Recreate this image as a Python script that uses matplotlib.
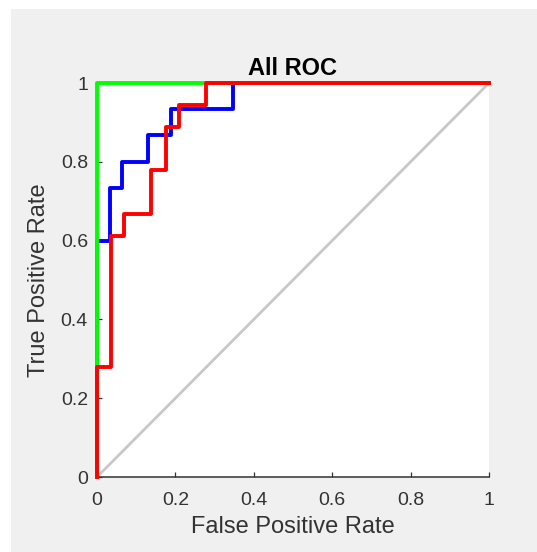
import matplotlib
matplotlib.use("Agg")
import matplotlib.pyplot as plt
from matplotlib.patches import Rectangle

# ROC points (drawn as steps)
green_fpr = [0.0, 0.0, 1.0]
green_tpr = [0.0, 1.0, 1.0]

blue_fpr = [0.0, 0.0, 0.033, 0.065, 0.13, 0.19, 0.347, 1.0]
blue_tpr = [0.0, 0.6, 0.733, 0.8, 0.867, 0.933, 1.0, 1.0]

red_fpr = [0.0, 0.0, 0.036, 0.069, 0.138, 0.176, 0.208, 0.278, 1.0]
red_tpr = [0.0, 0.278, 0.611, 0.667, 0.778, 0.889, 0.944, 1.0, 1.0]

ticks = [0, 0.2, 0.4, 0.6, 0.8, 1]
tick_labels = ["0", "0.2", "0.4", "0.6", "0.8", "1"]

plt.rcParams["font.family"] = ["Liberation Sans", "DejaVu Sans"]

W, H = 537, 552
fig = plt.figure(figsize=(W / 100, H / 100), dpi=100)
fig.patch.set_facecolor("white")
# grey window area, white strip on top and left
fig.add_artist(Rectangle((11 / W, 0), 1 - 11 / W, (H - 9) / H,
                         transform=fig.transFigure, facecolor="#f0f0f0",
                         edgecolor="none", zorder=-10))

ax = fig.add_axes([97 / W, 1 - 477 / H, 392 / W, 394 / H])
ax.set_facecolor("white")

lw = 2.8
ax.plot([0, 1], [0, 1], color="#c8c8c8", lw=2.0, zorder=1)
ax.plot(blue_fpr, blue_tpr, drawstyle="steps-post", color=(0, 0, 1), lw=lw, clip_on=False, zorder=2)
ax.plot(green_fpr, green_tpr, drawstyle="steps-post", color=(0, 1, 0), lw=lw, clip_on=False, zorder=3)
ax.plot(red_fpr, red_tpr, drawstyle="steps-post", color=(1, 0, 0), lw=lw, clip_on=False, zorder=4)

ax.set_xlim(0, 1)
ax.set_ylim(0, 1)
ax.set_xticks(ticks)
ax.set_xticklabels(tick_labels)
ax.set_yticks(ticks)
ax.set_yticklabels(tick_labels)

ax.spines["top"].set_visible(False)
ax.spines["right"].set_visible(False)
for s in ("left", "bottom"):
    ax.spines[s].set_color("#333333")
    ax.spines[s].set_linewidth(1.1)

ax.tick_params(direction="in", length=3.5, width=0.9, colors="#333333", labelsize=14)
ax.tick_params(axis="x", pad=11)
ax.tick_params(axis="y", pad=6.5)

ax.set_xlabel("False Positive Rate", fontsize=17, color="#333333", labelpad=5)
ax.set_ylabel("True Positive Rate", fontsize=17, color="#333333", labelpad=8)
ax.set_title("All ROC", fontsize=17, fontweight="bold", color="black", pad=6)

fig.savefig("out.png", dpi=100, facecolor=fig.get_facecolor())
